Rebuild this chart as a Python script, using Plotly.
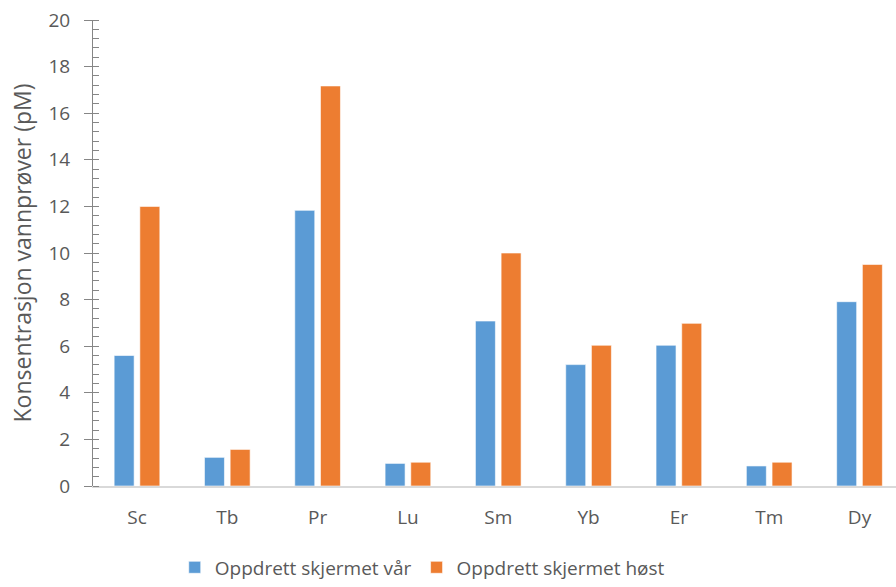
import plotly.graph_objects as go

categories = ["Sc", "Tb", "Pr", "Lu", "Sm", "Yb", "Er", "Tm", "Dy"]
series_names = ["Oppdrett skjermet vår", "Oppdrett skjermet høst"]
var_values = [5.6, 1.23, 11.83, 0.97, 7.08, 5.21, 6.04, 0.86, 7.91]
host_values = [12.0, 1.57, 17.17, 1.02, 10.0, 6.04, 6.98, 1.02, 9.51]
y_ticks = [0, 2, 4, 6, 8, 10, 12, 14, 16, 18, 20]

blue = "#5B9BD5"
orange = "#ED7D31"
txt = "#595959"
font_family = "Open Sans"

fig = go.Figure()
fig.add_trace(go.Bar(x=categories, y=var_values, name=series_names[0],
                     marker=dict(color=blue, line=dict(color="rgba(255,255,255,0.6)", width=1))))
fig.add_trace(go.Bar(x=categories, y=host_values, name=series_names[1],
                     marker=dict(color=orange, line=dict(color="rgba(255,255,255,0.6)", width=1))))

fig.update_layout(
    width=896, height=587,
    margin=dict(l=93, r=0, t=20, b=101),
    paper_bgcolor="white", plot_bgcolor="white",
    barmode="group", bargap=0.431, bargroupgap=0.222,
    font=dict(family=font_family, color=txt, size=19),
    showlegend=True,
    legend=dict(orientation="h", x=0.41, xanchor="center", y=-0.134, yanchor="top",
                font=dict(size=19, color=txt), itemwidth=30, traceorder="normal"),
    xaxis=dict(type="category", range=[-0.487, 8.404], showline=True, linecolor="#D9D9D9",
               linewidth=2, ticks="", showgrid=False, zeroline=False,
               tickfont=dict(size=19, color=txt), ticklabelstandoff=13),
    yaxis=dict(range=[0, 20], tickvals=y_ticks, showline=True, linecolor="#868686", linewidth=1,
               ticks="outside", ticklen=8, tickcolor="#868686", tickwidth=1,
               minor=dict(dtick=0.4, ticks="inside", ticklen=6, tickcolor="#868686", tickwidth=1),
               showgrid=False, zeroline=False, tickfont=dict(size=19, color=txt),
               ticklabelstandoff=10,
               title=dict(text="Konsentrasjon vannprøver (pM)", font=dict(size=23, color=txt), standoff=10)),
    yaxis2=dict(range=[0, 20], tickvals=y_ticks, overlaying="y", anchor="x", side="left",
                showline=False, ticks="inside", ticklen=8, tickcolor="#868686", tickwidth=1,
                showticklabels=False, showgrid=False, zeroline=False),
)

fig.write_html("out.html")
